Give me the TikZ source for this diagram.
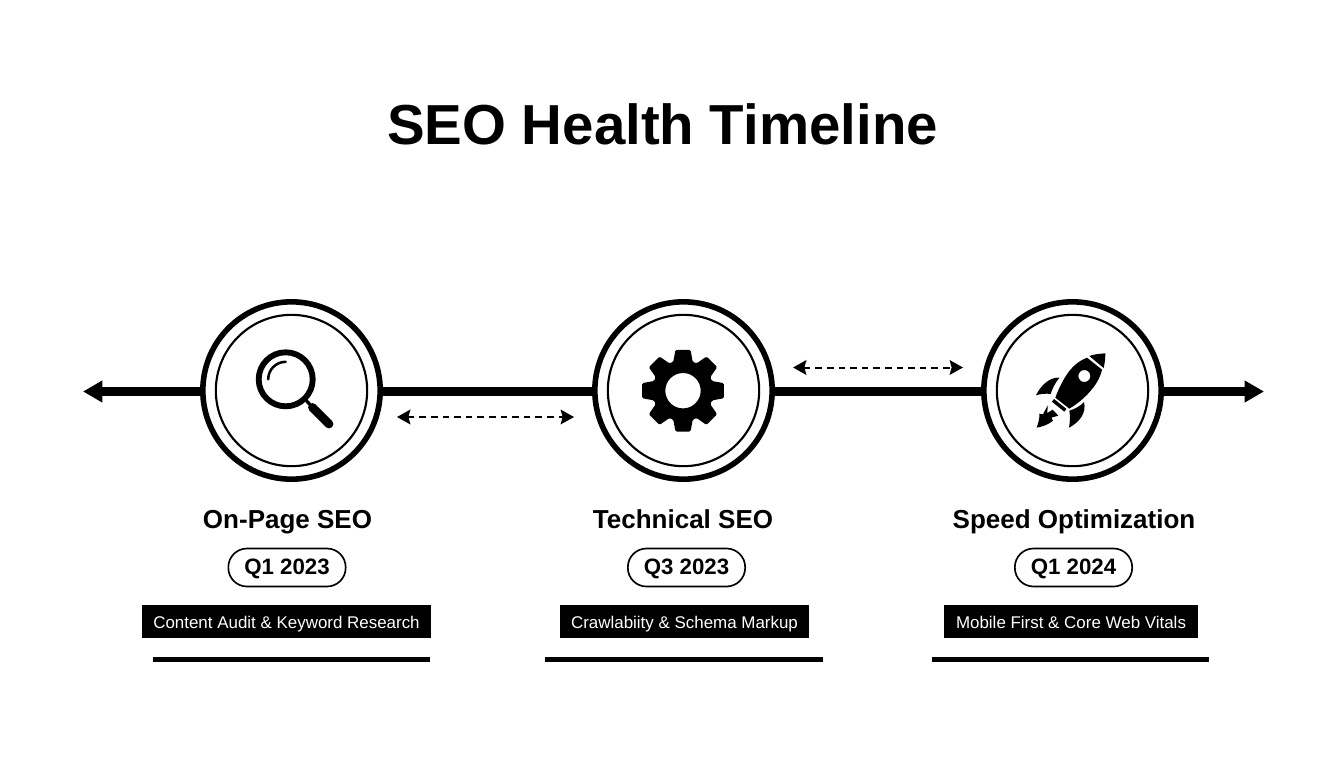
\documentclass[tikz,border=0pt]{standalone}
\usepackage{fontspec}
\setmainfont{Liberation Sans}
\usetikzlibrary{arrows.meta}
\tikzset{
  x=0.75pt,y=-0.75pt,
  outerring/.style={circle,draw=black,fill=white,line width=4.2pt,minimum size=133pt,inner sep=0pt},
  innerring/.style={circle,draw=black,line width=1.6pt,minimum size=113.5pt,inner sep=0pt},
  mainline/.style={line width=6.2pt,draw=black},
  mainarrow/.style={mainline,-{Triangle[length=14.5pt,width=15.5pt]}},
  dashlink/.style={line width=1.5pt,dash pattern=on 5pt off 3.7pt,{Stealth[length=10pt,width=11pt,inset=1.5pt]}-{Stealth[length=10pt,width=11pt,inset=1.5pt]}},
  titletext/.style={font=\bfseries\fontsize{42.3pt}{48pt}\selectfont,inner sep=0pt,anchor=base},
  headtext/.style={font=\bfseries\fontsize{19.5pt}{24pt}\selectfont,inner sep=0pt,anchor=base},
  datepill/.style={draw=black,line width=1.25pt,rounded corners=14pt,minimum width=88pt,minimum height=28.5pt,inner sep=0pt,text height=11.2pt,text depth=0pt,font=\bfseries\fontsize{16.7pt}{20pt}\selectfont},
  descbox/.style={fill=black,text=white,minimum height=25pt,inner sep=0pt,text height=10.2pt,text depth=0pt,font=\fontsize{12.7pt}{16pt}\selectfont},
  underrule/.style={line width=4.3pt,draw=black},
}
\begin{document}
\begin{tikzpicture}
\useasboundingbox (0,0) rectangle (1344,768);
\coordinate (leftend) at (83,391.5);
\coordinate (rightend) at (1264,391.5);
\node[outerring] (c1) at (291.5,390.5) {};
\node[outerring] (c2) at (683.5,390.5) {};
\node[outerring] (c3) at (1072.5,390.5) {};
\node[innerring] (i1) at (291.5,390.5) {};
\node[innerring] (i2) at (683.5,390.5) {};
\node[innerring] (i3) at (1072.5,390.5) {};
\draw[mainarrow] (c1.west |- leftend) -- (leftend);
\draw[mainarrow] (c3.east |- rightend) -- (rightend);
\draw[mainline] (c1.east |- leftend) -- (c2.west |- leftend);
\draw[mainline] (c2.east |- leftend) -- (c3.west |- leftend);
\coordinate (d1a) at (397,417); \coordinate (d1b) at (574,417);
\coordinate (d2a) at (793,367.5); \coordinate (d2b) at (963,367.5);
\draw[dashlink] (d1a) -- (d1b);
\draw[dashlink] (d2a) -- (d2b);
% magnifier
\begin{scope}[shift={(285.7,379.3)}]
  \draw[line width=4.4pt] (0,0) circle (27);
  \draw[line width=1.9pt,line cap=round] (180:17.5) arc[start angle=180,end angle=270,radius=17.5];
\end{scope}
\draw[line width=6.6pt,line cap=round] (312.5,407.5) -- (329,424);
\draw[line width=2.5pt] (304,398) -- (313,408);
% gear
\begin{scope}[shift={(683,390.7)}]
  \fill[even odd rule,rounded corners=1pt]
    (-18.5:30.5) -- (-10.5:41.5) -- (10.5:41.5) -- (18.5:30.5)
    \foreach \a in {45,90,...,315}{ -- (\a-18.5:30.5) -- (\a-10.5:41.5) -- (\a+10.5:41.5) -- (\a+18.5:30.5) } -- cycle
    (0,0) circle (17.7);
\end{scope}
% rocket
\begin{scope}[shift={(1030,345)},scale=1/3]
  % nose
  \fill (226,25) .. controls (208,26) and (192,28) .. (178,33)
     -- (221,69) .. controls (224,55) and (226,40) .. (226,25) -- cycle;
  % body
  \fill[even odd rule] (171,38) .. controls (150,46) and (132,60) .. (118,78)
     .. controls (100,102) and (86,130) .. (76,158)
     -- (118,191) .. controls (150,172) and (178,146) .. (198,116)
     .. controls (207,102) and (213,88) .. (216,74) -- cycle
     (163,93) circle (18);
  % collar
  \draw[line width=2.6pt] (69,166) -- (106,196);
  % fins
  \fill (88,98) .. controls (58,96) and (32,122) .. (18,151)
     .. controls (32,146) and (50,145) .. (62,147)
     .. controls (67,130) and (76,113) .. (88,98) -- cycle;
  \fill (162,171) .. controls (150,184) and (134,192) .. (118,197)
     .. controls (121,214) and (120,232) .. (117,248)
     .. controls (148,232) and (170,204) .. (162,171) -- cycle;
  % flame
  \fill (20,248) .. controls (25,233) and (29,220) .. (28,206)
     -- (39,208) -- (53,181) -- (52,204) -- (68,194) -- (85,212)
     -- (64,218) -- (69,227) .. controls (55,239) and (37,245) .. (20,248) -- cycle;
\end{scope}
% texts
\node[titletext] (title) at (662.5,144.5) {SEO Health Timeline};
\node[headtext] (h1) at (287.5,528.5) {On-Page SEO};
\node[headtext] (h2) at (683,528.5) {Technical SEO};
\node[headtext] (h3) at (1074,528.5) {Speed Optimization};
\node[datepill] (p1) at (287,567.5) {Q1 2023};
\node[datepill] (p2) at (686.5,567.5) {Q3 2023};
\node[datepill] (p3) at (1073.5,567.5) {Q1 2024};
\node[descbox,minimum width=216.75pt] (b1) at (286.5,621.5) {Content Audit \& Keyword Research};
\node[descbox,minimum width=186.75pt] (b2) at (684.5,621.5) {Crawlabiity \& Schema Markup};
\node[descbox,minimum width=190.5pt] (b3) at (1071,621.5) {Mobile First \& Core Web Vitals};
\coordinate (r1a) at (153,659.5); \coordinate (r1b) at (430,659.5);
\coordinate (r2a) at (545,659.5); \coordinate (r2b) at (823,659.5);
\coordinate (r3a) at (932,659.5); \coordinate (r3b) at (1209,659.5);
\draw[underrule] (r1a) -- (r1b);
\draw[underrule] (r2a) -- (r2b);
\draw[underrule] (r3a) -- (r3b);
\end{tikzpicture}
\end{document}
